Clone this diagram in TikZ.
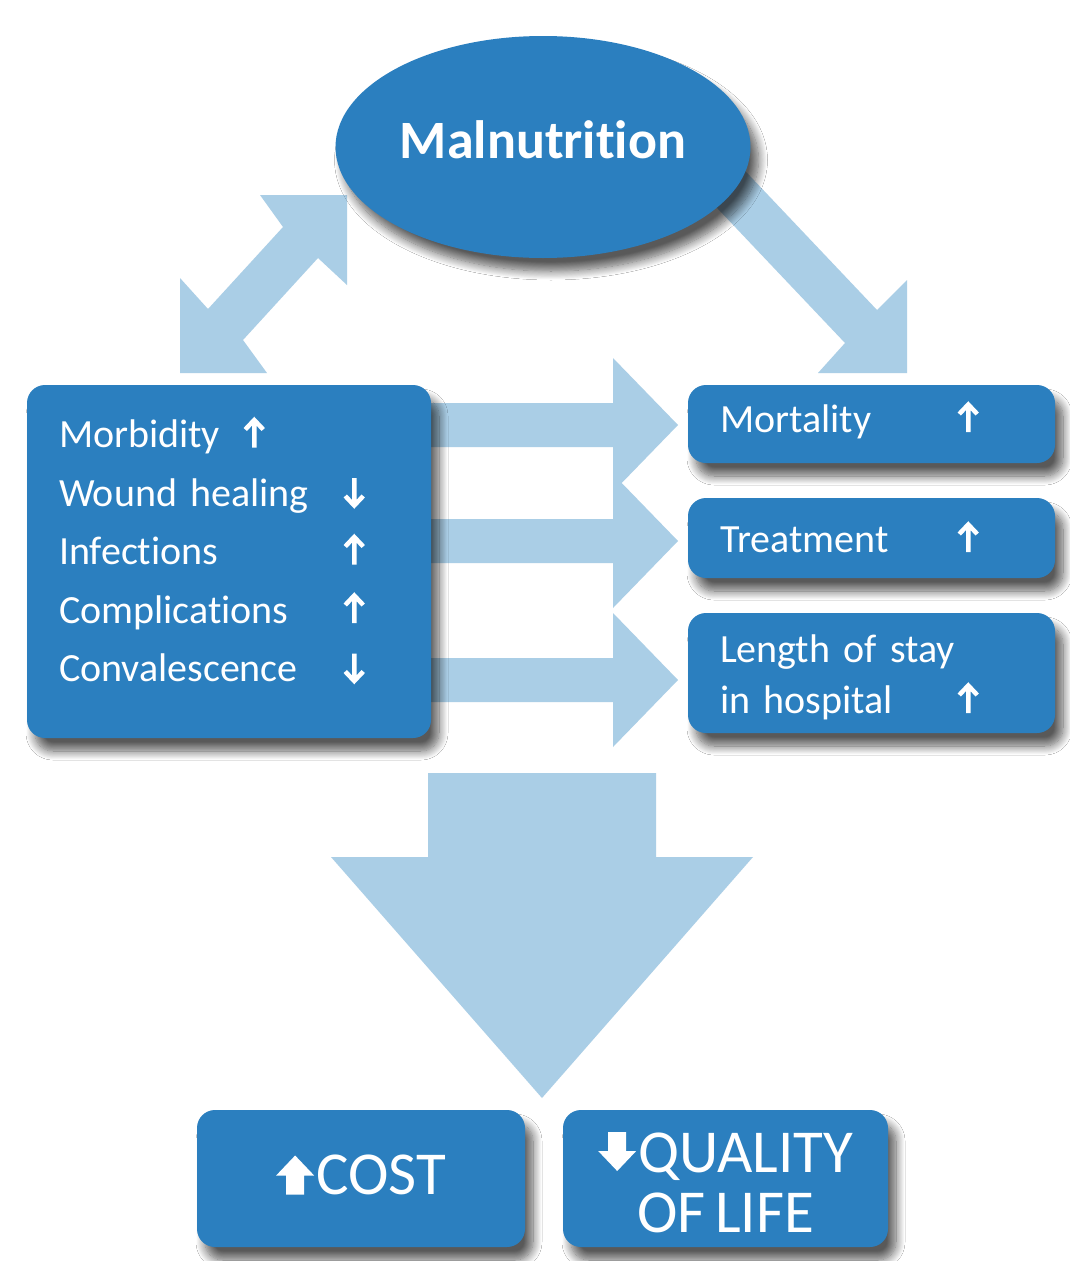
\documentclass[tikz,border=0pt]{standalone}
\usepackage{fontspec}
\setmainfont{Carlito}[Ligatures={NoCommon},WordSpace=0.7]
\usetikzlibrary{shapes.geometric,shadows.blur,calc}

\definecolor{boxblue}{RGB}{43,127,191}
\definecolor{paleblue}{RGB}{170,206,230}

% small trend arrows (open heads) and bold block arrows, drawn in white
\tikzset{glyph/.style={baseline=0pt,x=1pt,y=1pt,sharp corners}}
\newcommand\uparr{\tikz[glyph]{\draw[white,line width=4.5pt,miter limit=4]
  (0,0)--(0,27) (-9,18)--(0,27.5)--(9,18);}}
\newcommand\downarr{\tikz[glyph]{\draw[white,line width=4.5pt,miter limit=4]
  (0,28)--(0,1) (-9,10)--(0,0.5)--(9,10);}}
\newcommand\bigup{\tikz[glyph]{\fill[white] (-9,0) rectangle (9,20)
  (-19,19)--(0,39)--(19,19)--cycle;}}
\newcommand\bigdown{\tikz[glyph]{\fill[white] (-9,40) rectangle (9,20)
  (-19,21)--(0,1)--(19,21)--cycle;}}

\begin{document}
\begin{tikzpicture}[x=1pt,y=-1pt,
  boxshadow/.style={blur shadow={shadow xshift=8pt,shadow yshift=-13pt,
      shadow blur radius=9pt,shadow blur steps=12,shadow opacity=65}},
  bluebox/.style={rectangle,rounded corners=18pt,fill=boxblue,text=white,
      inner sep=0pt,boxshadow},
  listtext/.style={font=\fontsize{40}{58.5}\selectfont},
  fat/.style={fill=paleblue},
  hfat/.pic={\fill[fat] (0,0) -- (-65,-67) -- (-65,-22) -- (-250,-22)
      -- (-250,22) -- (-65,22) -- (-65,67) -- cycle;},
  downfat/.pic={\fill[fat] (0,0) -- (-211,-241) -- (-114,-241) -- (-114,-325)
      -- (114,-325) -- (114,-241) -- (211,-241) -- cycle;}
]
\fill[white] (0,0) rectangle (1070,1261);
\useasboundingbox (0,0) rectangle (1070,1261);

% tips of the pale block arrows
\coordinate (t1) at (678,425);
\coordinate (t2) at (678,541);
\coordinate (t3) at (678,680);
\coordinate (tdown) at (542,1098);

% ---- pale block arrows ----
% double arrow between the causes box and malnutrition
\fill[fat] (347,195) -- (347,285) -- (318,258) -- (243,340) -- (267,373)
  -- (180,373) -- (180,278) -- (208,309) -- (283,227) -- (260,195) -- cycle;
% arrow from malnutrition to the outcomes
\fill[fat] (907,373) -- (818,373) -- (845,343) -- (700,190) -- (732,157)
  -- (877,310) -- (907,280) -- cycle;
% arrows from the causes box to each outcome
\pic at (t1) {hfat};
\pic at (t2) {hfat};
\pic at (t3) {hfat};
% large arrow down to cost and quality of life
\pic at (tdown) {downfat};

% ---- blue boxes ----
\node[ellipse,fill=boxblue,text=white,minimum width=415pt,minimum height=222pt,
      inner sep=0pt,boxshadow,font=\bfseries\fontsize{54}{54}\selectfont]
      (maln) at (543,147) {Malnutrition\rule[-14pt]{0pt}{14pt}};

\node[bluebox,minimum width=404pt,minimum height=353pt,text width=340pt,
      align=left,listtext] (causes) at (229,561.5)
  {\rule{0pt}{40pt}\makebox[184pt][l]{Morbidity}\uparr\\
   \makebox[284pt][l]{Wound healing}\downarr\\
   \makebox[284pt][l]{Infections}\uparr\\
   \makebox[284pt][l]{Complications}\uparr\\
   \makebox[284pt][l]{Convalescence}\downarr\rule[-34pt]{0pt}{34pt}};

\node[bluebox,minimum width=367pt,minimum height=78pt,text width=303pt,
      align=left,listtext] (mort) at (871.5,424)
  {\rule[-14pt]{0pt}{44pt}\makebox[237pt][l]{Mortality}\uparr};

\node[bluebox,minimum width=367pt,minimum height=80pt,text width=303pt,
      align=left,listtext] (treat) at (871.5,538)
  {\rule[-8pt]{0pt}{44pt}\makebox[237pt][l]{Treatment}\uparr};

\node[bluebox,minimum width=367pt,minimum height=120pt,text width=303pt,
      align=left,font=\fontsize{40}{51}\selectfont] (stay) at (871.5,673)
  {\rule{0pt}{39pt}Length of stay\\
   \makebox[237pt][l]{in hospital}\uparr\rule[-10pt]{0pt}{10pt}};

\node[bluebox,minimum width=328pt,minimum height=137pt,align=center,
      font=\fontsize{61}{61}\selectfont] (cost) at (361,1178.5)
  {\rule[-8pt]{0pt}{48pt}\bigup\hspace{2pt}COST};

\node[bluebox,minimum width=325pt,minimum height=137pt,align=center,
      font=\fontsize{61}{60}\selectfont] (qol) at (725.5,1178.5)
  {\rule{0pt}{52pt}\bigdown\hspace{2pt}QUALITY\\ OF LIFE\rule[-5pt]{0pt}{5pt}};
\end{tikzpicture}
\end{document}
